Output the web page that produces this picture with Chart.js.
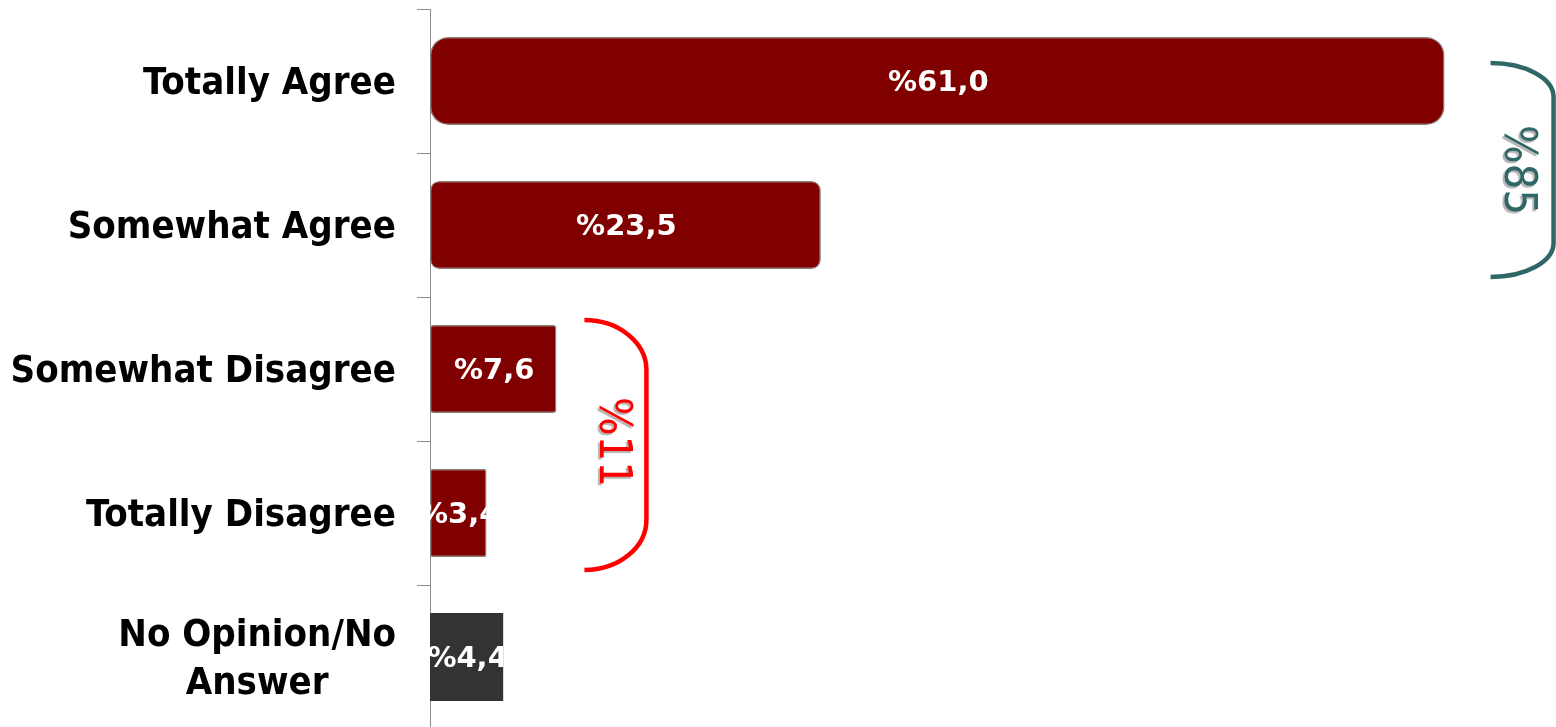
<!DOCTYPE html>
<html><head><meta charset="utf-8">
<script src="https://cdn.jsdelivr.net/npm/chart.js@4"></script>
<style>html,body{margin:0;padding:0;background:#fff;overflow:hidden}
#wrap{position:relative;width:1556px;height:732px}</style>
</head><body><div id="wrap"><canvas id="c"></canvas></div>
<script>
const categories = ['Totally Agree', 'Somewhat Agree', 'Somewhat Disagree', 'Totally Disagree', ['No Opinion/No', 'Answer']];
const values = [61.0, 23.5, 7.6, 3.4, 4.4];
const barColors = ['#800000', '#800000', '#800000', '#800000', '#333333'];
const agreeGroup = [0, 1];
const disagreeGroup = [2, 3];

const FAMILY = "'DejaVu Sans Condensed', 'DejaVu Sans', sans-serif";
const fmt = v => '%' + v.toFixed(1).replace('.', ',');

const categoryLabelPlugin = {
  id: 'catLabels',
  afterDraw(chart) {
    const ctx = chart.ctx, ys = chart.scales.y;
    const right = ys.right - 13 - 21;
    ctx.save();
    ctx.font = 'bold 38px ' + FAMILY;
    ctx.fillStyle = '#000';
    ctx.textBaseline = 'middle';
    categories.forEach((lab, i) => {
      const cy = ys.getPixelForValue(i);
      const lines = Array.isArray(lab) ? lab : [lab];
      const w = Math.max(...lines.map(l => ctx.measureText(l).width));
      const lh = 48;
      ctx.textAlign = 'center';
      lines.forEach((l, k) => {
        const y = cy + (k - (lines.length - 1) / 2) * lh + 3;
        ctx.fillText(l, right - w / 2, y);
      });
    });
    ctx.restore();
  }
};

const valueLabelPlugin = {
  id: 'valLabels',
  afterDatasetsDraw(chart) {
    const ctx = chart.ctx;
    const meta = chart.getDatasetMeta(0);
    ctx.save();
    ctx.font = "bold 29px 'DejaVu Sans', sans-serif";
    ctx.fillStyle = '#fff';
    ctx.textAlign = 'center';
    ctx.textBaseline = 'middle';
    meta.data.forEach((bar, i) => {
      const p = bar.getProps(['x', 'y', 'base', 'height'], true);
      const x0 = p.base, x1 = p.x;
      ctx.save();
      ctx.beginPath();
      ctx.rect(x0, p.y - p.height / 2, x1 - x0, p.height);
      ctx.clip();
      ctx.fillText(fmt(values[i]), (x0 + x1) / 2 + 1, p.y + 2);
      ctx.restore();
    });
    ctx.restore();
  }
};

function drawBracket(ctx, x0, top, bottom, rx, ry, color, lw) {
  const k = 0.5523;
  ctx.save();
  ctx.strokeStyle = color;
  ctx.lineWidth = lw;
  ctx.beginPath();
  ctx.moveTo(x0, top);
  ctx.bezierCurveTo(x0 + rx * k, top, x0 + rx, top + ry * (1 - k), x0 + rx, top + ry);
  ctx.lineTo(x0 + rx, bottom - ry);
  ctx.bezierCurveTo(x0 + rx, bottom - ry * (1 - k), x0 + rx * k, bottom, x0, bottom);
  ctx.stroke();
  ctx.restore();
}
function drawRotText(ctx, text, x, y, color) {
  ctx.save();
  ctx.translate(x, y);
  ctx.rotate(Math.PI / 2);
  ctx.font = '45px ' + FAMILY;
  ctx.fillStyle = color;
  ctx.textAlign = 'center';
  ctx.textBaseline = 'middle';
  ctx.shadowColor = 'rgba(0,0,0,0.3)';
  ctx.shadowOffsetX = -2;
  ctx.shadowOffsetY = 2;
  ctx.shadowBlur = 1;
  ctx.fillText(text, 0, 0);
  ctx.restore();
}

const bracketPlugin = {
  id: 'brackets',
  afterDraw(chart) {
    const ctx = chart.ctx, xs = chart.scales.x, ys = chart.scales.y;
    const aMax = Math.max(...agreeGroup.map(i => values[i]));
    const aSum = agreeGroup.reduce((s, i) => s + values[i], 0);
    const ax = xs.getPixelForValue(aMax) + 46;
    const aTop = ys.getPixelForValue(agreeGroup[0]) - 18;
    const aBot = ys.getPixelForValue(agreeGroup[agreeGroup.length - 1]) + 52;
    drawBracket(ctx, ax, aTop, aBot, 63, 34, '#2f6767', 4.5);
    drawRotText(ctx, '%' + Math.round(aSum), ax + 26, (aTop + aBot) / 2, '#2f6767');
    const dMax = Math.max(...disagreeGroup.map(i => values[i]));
    const dSum = disagreeGroup.reduce((s, i) => s + values[i], 0);
    const dx = xs.getPixelForValue(dMax) + 28;
    const dTop = ys.getPixelForValue(disagreeGroup[0]) - 49;
    const dBot = ys.getPixelForValue(disagreeGroup[disagreeGroup.length - 1]) + 57;
    drawBracket(ctx, dx, dTop, dBot, 62, 50, '#ff0000', 4.5);
    drawRotText(ctx, '%' + Math.round(dSum), dx + 27, (dTop + dBot) / 2 - 3, '#ff0000');
  }
};

new Chart(document.getElementById('c'), {
  type: 'bar',
  data: {
    labels: categories,
    datasets: [{
      data: values,
      backgroundColor: barColors,
      borderColor: ['#7f7f7f', '#7f7f7f', '#7f7f7f', '#7f7f7f', '#333333'],
      borderWidth: [1.2, 1.2, 1.2, 1.2, 0],
      borderRadius: [18, 9, 3, 2, 0],
      borderSkipped: false,
      barPercentage: 0.61,
      categoryPercentage: 1
    }]
  },
  options: {
    indexAxis: 'y',
    responsive: true,
    maintainAspectRatio: false,
    animation: false,
    layout: { padding: { top: 9, bottom: 3, left: 0, right: 0 } },
    plugins: { legend: { display: false }, tooltip: { enabled: false } },
    scales: {
      x: { display: false, min: 0, max: 67.7 },
      y: {
        afterFit(scale) { scale.width = 430; },
        ticks: { display: false },
        grid: { drawOnChartArea: false, drawTicks: true, tickLength: 13, color: '#8c8c8c', offset: true },
        border: { display: true, color: '#8c8c8c', width: 1 }
      }
    }
  },
  plugins: [categoryLabelPlugin, valueLabelPlugin, bracketPlugin]
});
</script>
</body></html>
